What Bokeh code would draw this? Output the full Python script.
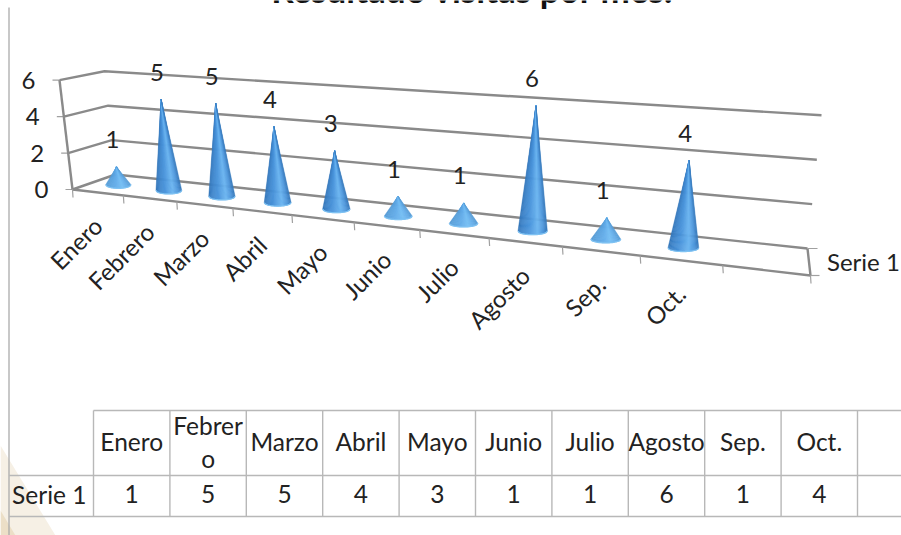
import numpy as np
from bokeh.plotting import figure
from bokeh.embed import file_html
from bokeh.resources import INLINE
from bokeh.core.properties import value

title = "Resultado visitas por mes."
categories = ["Enero", "Febrero", "Marzo", "Abril", "Mayo", "Junio", "Julio", "Agosto", "Sep.", "Oct."]
table_headers = [["Enero"], ["Febrer", "o"], ["Marzo"], ["Abril"], ["Mayo"], ["Junio"], ["Julio"], ["Agosto"], ["Sep."], ["Oct."]]
series_name = "Serie 1"
values = [1, 5, 5, 4, 3, 1, 1, 6, 1, 4]
y_ticks = [0, 2, 4, 6]

# ---- perspective projection parameters of the 3-D scene (screen pixels) ----
SLOTS = 11
KP = 1.35
FL, FR = np.array([72.0, 189.0]), np.array([810.0, 275.0])
BL, BR = np.array([115.0, 174.0]), np.array([807.0, 248.0])


def persp(u):
    return u / (u + KP * (1 - u))


def project(u, v, level=0.0):
    s = persp(u)
    p0 = FL + (FR - FL) * s
    p1 = BL + (BR - BL) * s
    p = p0 + (p1 - p0) * v
    unit_h = (17.2 + 5.0 * s) * (1 + 0.06 * (1 - v))
    unit_dx = (-11 - 2 * (1 - v) + 25 * s) / 6
    return np.array([p[0] + unit_dx * level, p[1] - unit_h * level])


W, H = 901, 535
p = figure(width=W, height=H, x_range=(0, W), y_range=(H, 0), toolbar_location=None,
           output_backend="svg", min_border=0)
p.axis.visible = False
p.grid.visible = False
p.outline_line_color = None

FONT = value("Lato")
FS = "24px"
GRID = "#8a8a8a"
TICK = "#a0a0a0"
TABLE = "#b8b8b8"
TXT = "#222222"

# background decoration
p.patch([0, 55, 0], [445, 535, 535], fill_color="#f6f0e5", line_color=None)
p.patch([0, 15, 0], [510, 535, 535], fill_color="#ecdfc7", line_color=None)
p.line([8.5, 8.5], [7, 535], line_color="#ababab", line_width=1.3)

# walls
for lev in y_ticks:
    a, b, c = project(0, 0, lev), project(0, 1, lev), project(1, 1, lev)
    p.line([a[0], b[0], c[0]], [a[1], b[1], c[1]], line_color=GRID, line_width=2.4)
    p.line([a[0] - 7, a[0]], [a[1], a[1]], line_color=TICK, line_width=1.2)
    p.text([a[0] - 31], [a[1]], text=[str(lev)], text_font=FONT, text_font_size=FS,
           text_color=TXT, text_align="center", text_baseline="middle")
a, b = project(0, 0, 0), project(0, 0, max(y_ticks))
p.line([a[0], b[0]], [a[1], b[1]], line_color=GRID, line_width=2.4)
a, b, c = project(0, 0), project(1, 0), project(1, 1)
p.line([a[0], b[0], c[0]], [a[1], b[1], c[1]], line_color=GRID, line_width=2.4)
p.line([b[0], b[0] + 9], [b[1], b[1]], line_color=TICK, line_width=1.2)
p.line([c[0], c[0] + 10], [c[1], c[1]], line_color=TICK, line_width=1.2)
for i in range(SLOTS + 1):
    t = project(i / SLOTS, 0)
    p.line([t[0], t[0] + 0.5], [t[1], t[1] + 8], line_color=TICK, line_width=1.2)

# cones
stops_t = [0.0, 0.12, 0.4, 0.68, 0.88, 1.0]
stops_c = np.array([[0x33, 0x76, 0xb8], [0x3c, 0x83, 0xc9], [0x4b, 0x96, 0xdd],
                    [0x6b, 0xb5, 0xf0], [0x4e, 0x96, 0xdb], [0x36, 0x78, 0xb9]], dtype=float)
LIGHT = (0x80, 0xc8, 0xf8)
N = 28
for i, val in enumerate(values):
    u = (i + 0.5) / SLOTS
    s = persp(u)
    c = project(u, 0.5)
    tip = project(u, 0.5, val)
    ra = 12.5 + 3.5 * s
    rb = 3.6
    light = 0.45 if val <= 1 else 0.0
    xs, ys, cols = [], [], []
    for j in range(N):
        t0, t1 = j / N, (j + 1) / N
        x0, x1 = -1 + 2 * t0, -1 + 2 * t1
        px0, py0 = c[0] + ra * x0, c[1] + rb * np.sqrt(max(0, 1 - x0 * x0))
        px1, py1 = c[0] + ra * x1, c[1] + rb * np.sqrt(max(0, 1 - x1 * x1))
        xs.append([tip[0], px0, px1])
        ys.append([tip[1], py0, py1])
        tm = (t0 + t1) / 2
        col = [np.interp(tm, stops_t, stops_c[:, k]) for k in range(3)]
        col = [int(v + (LIGHT[k] - v) * light) for k, v in enumerate(col)]
        cols.append("#%02x%02x%02x" % tuple(col))
    p.patches(xs, ys, fill_color=cols, line_color=cols, line_width=0.5)
    rim = np.linspace(-1, 1, 30)
    p.line(c[0] + ra * rim, c[1] + rb * np.sqrt(1 - rim * rim), line_color="#7fc2f2", line_width=1.3)
    # data label
    p.text([tip[0] - 4], [tip[1] - 27], text=[str(val)], text_font=FONT, text_font_size=FS,
           text_color=TXT, text_align="center", text_baseline="middle")

# category labels
for i, cat in enumerate(categories):
    f = project((i + 0.5) / SLOTS, 0)
    p.text([f[0]], [f[1] + 29], text=[cat], text_font=FONT, text_font_size=FS, text_color=TXT,
           text_align="right", text_baseline="middle", angle=45, angle_units="deg")
q = (project(1, 0) + project(1, 1)) / 2
p.text([q[0] + 18], [q[1] - 1], text=[series_name], text_font=FONT, text_font_size=FS, text_color=TXT,
       text_align="left", text_baseline="middle")

# title
p.text([472], [-11.5], text=[title], text_font=FONT, text_font_size="35px", text_font_style="bold",
       text_color="#111111", text_align="center", text_baseline="alphabetic")

# data table
TX0, TCW, TY0, TY1, TY2, TXE = 93.0, 76.4, 410.0, 475.0, 516.0, 901.0
TFS = "24.5px"
col_x = [TX0 + TCW * k for k in range(len(categories) + 2)]
p.line([TX0, TXE], [TY0, TY0], line_color=TABLE, line_width=1.4)
p.line([8.5, TXE], [TY1, TY1], line_color=TABLE, line_width=1.4)
p.line([8.5, TXE], [TY2, TY2], line_color=TABLE, line_width=1.4)
for x in col_x:
    p.line([x, x], [TY0, TY2], line_color=TABLE, line_width=1.4)
for k, head in enumerate(table_headers):
    cx = col_x[k] + TCW / 2
    ym = (TY0 + TY1) / 2 - 1.5
    offs = [0] if len(head) == 1 else [-16.5, 16.5]
    for line, dy in zip(head, offs):
        p.text([cx], [ym + dy], text=[line], text_font=FONT, text_font_size=TFS, text_color=TXT,
               text_align="center", text_baseline="middle")
    p.text([cx], [(TY1 + TY2) / 2 - 2], text=[str(values[k])], text_font=FONT, text_font_size=TFS,
           text_color=TXT, text_align="center", text_baseline="middle")
p.text([(8.5 + TX0) / 2 - 2], [(TY1 + TY2) / 2 - 2], text=[series_name], text_font=FONT, text_font_size=TFS,
       text_color=TXT, text_align="center", text_baseline="middle")

open("out.html", "w").write(file_html(p, INLINE))
